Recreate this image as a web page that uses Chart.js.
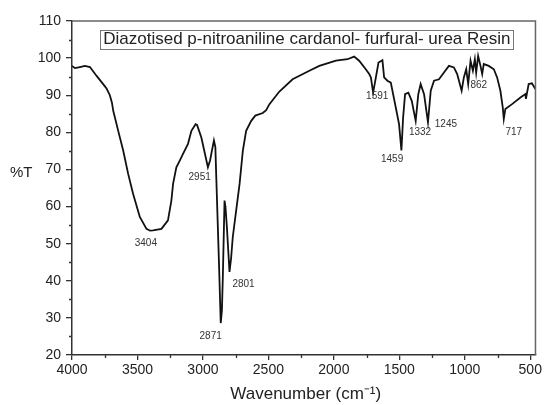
<!DOCTYPE html>
<html>
<head>
<meta charset="utf-8">
<script src="https://cdn.jsdelivr.net/npm/chart.js@4/dist/chart.umd.min.js"></script>
<style>
  html, body { margin: 0; padding: 0; background: #fff; }
  #wrap { width: 544px; height: 405px; }
</style>
</head>
<body>
<div id="wrap"><canvas id="ftir" width="544" height="405"></canvas></div>
<script>
(function() {
    'use strict';

    // spectrum (wavenumber in cm-1, %T)
    var wavenumbers = [
        4000, 3977, 3940, 3901, 3863, 3812, 3762, 3736, 3711, 3695, 3685, 3647, 3609, 3571, 3533,
        3482, 3431, 3404, 3381, 3317, 3267, 3241, 3228, 3203, 3177, 3152, 3114, 3088, 3056, 3045,
        3012, 2962, 2945, 2936, 2916, 2905, 2898, 2878, 2864, 2855, 2848, 2835, 2828, 2817, 2797,
        2785, 2772, 2746, 2720, 2695, 2670, 2631, 2600, 2543, 2517, 2492, 2416, 2315, 2187, 2111,
        1984, 1896, 1845, 1807, 1756, 1730, 1717, 1700, 1679, 1659, 1629, 1616, 1591, 1565, 1527,
        1502, 1484, 1471, 1456, 1431, 1405, 1375, 1355, 1337, 1311, 1281, 1260, 1235, 1197, 1159,
        1121, 1083, 1058, 1024, 1007, 989, 974, 956, 938, 923, 913, 898, 880, 867, 855,
        817, 778, 753, 728, 710, 702, 690, 639, 575, 537, 533, 512, 487, 461
    ];
    var transmittance = [
        97.9, 97.3, 97.6, 97.9, 97.6, 95.2, 93.0, 91.8, 90.0, 88.0, 85.8, 80.4, 75.1, 68.8, 63.4,
        57.2, 54.0, 53.5, 53.6, 54.0, 56.3, 61.6, 66.1, 70.6, 72.4, 74.2, 76.9, 80.4, 82.2, 82.0,
        78.6, 70.6, 72.5, 74.2, 77.8, 76.0, 67.9, 45.5, 28.6, 32.0, 41.0, 61.6, 60.0, 54.5, 42.4,
        46.0, 51.8, 59.0, 66.1, 75.1, 80.4, 83.1, 84.5, 85.2, 86.0, 87.6, 91.0, 94.3, 96.6, 97.9,
        99.3, 99.7, 100.4, 99.3, 97.0, 95.7, 94.8, 90.7, 94.8, 98.8, 99.4, 94.8, 93.9, 93.4, 86.7,
        82.2, 75.1, 84.0, 90.3, 90.7, 88.5, 83.1, 90.3, 93.0, 90.3, 82.7, 91.2, 93.9, 94.3, 96.1,
        97.9, 97.5, 95.7, 91.2, 94.8, 97.0, 93.0, 99.3, 96.6, 99.7, 96.1, 100.6, 97.9, 95.7, 98.4,
        97.9, 97.0, 94.8, 91.2, 86.7, 83.6, 86.3, 87.6, 89.4, 90.3, 89.0, 93.0, 93.2, 91.7
    ];

    // peak labels and where they sit (data coords)
    var peakLabels = ['3404', '2951', '2871', '2801', '1591', '1459', '1332', '1245', '862', '717'];
    var peakLabelX = [3436, 3025, 2941, 2690, 1669, 1555, 1342, 1144, 893, 626];
    var peakLabelY = [50.1, 67.8, 25.1, 39.1, 89.6, 72.7, 79.9, 82.1, 92.8, 79.9];

    var xTicks = [4000, 3500, 3000, 2500, 2000, 1500, 1000, 500];
    var xMinorTicks = [3750, 3250, 2750, 2250, 1750, 1250, 750];
    var yTicks = [20, 30, 40, 50, 60, 70, 80, 90, 100, 110];
    var yMinorTicks = [25, 35, 45, 55, 65, 75, 85, 95, 105];

    var titleText = 'Diazotised p-nitroaniline cardanol- furfural- urea Resin';
    var titleX = 2206, titleY = 105.0;

    var FONT = "'Liberation Sans', Arial, sans-serif";
    var AXIS_COLOR = '#333';

    var points = wavenumbers.map(function(w, i) { return { x: w, y: transmittance[i] }; });

    var decorPlugin = {
        id: 'decor',
        afterDraw: function(chart) {
            var ctx = chart.ctx;
            var area = chart.chartArea;
            var xs = chart.scales.x, ys = chart.scales.y;
            ctx.save();

            // top and right frame
            ctx.strokeStyle = '#666';
            ctx.lineWidth = 1.5;
            ctx.beginPath();
            ctx.moveTo(area.left, area.top);
            ctx.lineTo(area.right, area.top);
            ctx.lineTo(area.right, area.bottom);
            ctx.stroke();

            // minor ticks
            ctx.strokeStyle = AXIS_COLOR;
            ctx.lineWidth = 1.3;
            ctx.beginPath();
            xMinorTicks.forEach(function(v) {
                var px = Math.round(xs.getPixelForValue(v)) + 0.5;
                ctx.moveTo(px, area.bottom);
                ctx.lineTo(px, area.bottom + 3);
            });
            yMinorTicks.forEach(function(v) {
                var py = Math.round(ys.getPixelForValue(v)) + 0.5;
                ctx.moveTo(area.left, py);
                ctx.lineTo(area.left - 3, py);
            });
            ctx.stroke();

            // peak labels
            ctx.fillStyle = '#333';
            ctx.font = '10px ' + FONT;
            ctx.textAlign = 'center';
            ctx.textBaseline = 'middle';
            peakLabels.forEach(function(t, i) {
                ctx.fillText(t, xs.getPixelForValue(peakLabelX[i]), ys.getPixelForValue(peakLabelY[i]));
            });

            // boxed title
            ctx.font = '17px ' + FONT;
            ctx.fillStyle = '#222';
            var tx = xs.getPixelForValue(titleX), ty = ys.getPixelForValue(titleY);
            var tw = ctx.measureText(titleText).width;
            ctx.fillText(titleText, tx, ty);
            ctx.strokeStyle = '#777';
            ctx.lineWidth = 1;
            ctx.strokeRect(Math.round(tx - tw / 2 - 3) + 0.5, Math.round(ty - 9.5) + 0.5, Math.round(tw + 6), 19);

            // axis titles
            ctx.fillStyle = '#222';
            ctx.font = '15px ' + FONT;
            ctx.textAlign = 'left';
            ctx.fillText('%T', 10, ys.getPixelForValue(69));
            ctx.textAlign = 'center';
            ctx.font = '17px ' + FONT;
            ctx.fillText('Wavenumber (cm\u207B\u00B9)', (area.left + area.right) / 2 + 2, 394);

            ctx.restore();
        }
    };

    new Chart(document.getElementById('ftir'), {
        type: 'line',
        data: {
            datasets: [{
                data: points,
                borderColor: '#111',
                borderWidth: 1.8,
                pointRadius: 0,
                tension: 0,
                fill: false
            }]
        },
        options: {
            responsive: false,
            animation: false,
            devicePixelRatio: 1,
            layout: { padding: { top: 21, right: 7, left: 0, bottom: 0 } },
            plugins: {
                legend: { display: false },
                tooltip: { enabled: false }
            },
            scales: {
                x: {
                    type: 'linear',
                    reverse: true,
                    min: 460,
                    max: 4000,
                    afterBuildTicks: function(scale) {
                        scale.ticks = xTicks.map(function(v) { return { value: v }; });
                    },
                    afterFit: function(scale) { scale.height = 50; },
                    grid: {
                        drawOnChartArea: false,
                        drawTicks: true,
                        tickLength: 5,
                        color: AXIS_COLOR,
                        lineWidth: 1.3
                    },
                    border: { display: true, color: AXIS_COLOR, width: 1.5 },
                    ticks: {
                        font: { family: FONT, size: 14 },
                        color: '#222',
                        padding: 2,
                        maxRotation: 0,
                        autoSkip: false,
                        callback: function(v) { return String(v); }
                    }
                },
                y: {
                    min: 20,
                    max: 110,
                    afterBuildTicks: function(scale) {
                        scale.ticks = yTicks.map(function(v) { return { value: v }; });
                    },
                    afterFit: function(scale) { scale.width = 72; },
                    grid: {
                        drawOnChartArea: false,
                        drawTicks: true,
                        tickLength: 6,
                        color: AXIS_COLOR,
                        lineWidth: 1.3
                    },
                    border: { display: true, color: AXIS_COLOR, width: 1.5 },
                    ticks: {
                        font: { family: FONT, size: 14 },
                        color: '#222',
                        padding: 5,
                        autoSkip: false,
                        callback: function(v) { return String(v); }
                    }
                }
            }
        },
        plugins: [decorPlugin]
    });
})();
</script>
</body>
</html>
